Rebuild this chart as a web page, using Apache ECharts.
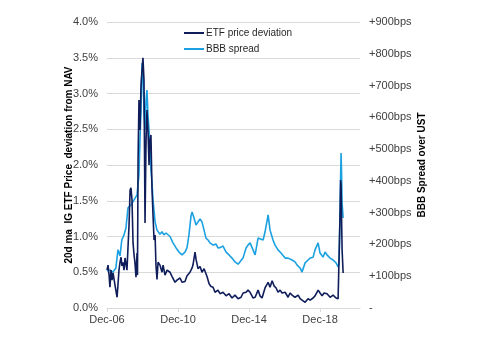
<!DOCTYPE html>
<html>
<head>
<meta charset="utf-8">
<script src="https://cdn.jsdelivr.net/npm/echarts@6/dist/echarts.min.js"></script>
<style>html,body{margin:0;padding:0;background:#fff;}#c{width:500px;height:350px;}</style>
</head>
<body>
<div id="c"></div>
<script>
// x values are months since Dec-2006
var xTickMonths = [0, 48, 96, 144];
var xTickLabels = ['Dec-06', 'Dec-10', 'Dec-14', 'Dec-18'];
var leftTicks = [0, 0.5, 1, 1.5, 2, 2.5, 3, 3.5, 4];
var rightTicks = [0, 100, 200, 300, 400, 500, 600, 700, 800, 900];

var etfMonths = [0,0.7,1.4,2,2.7,3.4,4.1,5.4,6.8,7.4,8.1,8.8,9.5,10.1,10.8,11.5,12.2,12.8,13.5,14.2,14.9,15.6,16.2,16.9,17.6,18.3,18.9,19.6,20.3,20.6,21,21.6,22.3,23,23.7,24.3,25,25.7,26.4,27,27.7,28.4,29,29.7,30.4,31.1,31.8,32.5,33.1,33.8,34.5,35.8,37.2,37.9,39.2,40.6,42.6,44,46,47.3,49.4,50.7,52.7,54.1,56.1,57.5,58.1,59.5,60.2,61.5,62.9,64.2,65.6,66.9,67.6,69,70.3,71.7,73,75,76.4,78.4,80.5,82.5,84.5,86.5,88.6,90.6,92,94,95.3,96.7,98.7,100.1,102.1,103.4,104.8,106.8,108.9,110.2,111.6,112.9,114.3,115.6,117,118.3,120.4,122.4,123.7,125.1,127.1,129.2,130.5,131.8,133.9,135.9,137.3,139.3,140.6,142.7,144,145.4,146.7,148.7,150.8,152.8,154.8,156.2,157.2,157.6,157.9,158.2,158.9,159.6];
var etfValues = [0.53,0.60,0.46,0.29,0.53,0.39,0.49,0.32,0.15,0.32,0.53,0.64,0.71,0.59,0.64,0.53,0.70,0.71,0.53,0.85,1.16,1.65,1.68,1.51,0.91,0.74,0.63,0.43,0.77,0.46,2.07,2.91,2.49,3.12,3.33,3.50,3.19,1.19,2.35,2.77,2.49,2.00,2.35,2.42,1.68,1.30,0.95,1.02,0.60,0.40,0.64,0.60,0.50,0.60,0.46,0.53,0.50,0.44,0.36,0.39,0.42,0.36,0.37,0.45,0.50,0.56,0.60,0.78,0.68,0.55,0.58,0.50,0.55,0.48,0.44,0.34,0.30,0.29,0.22,0.25,0.20,0.22,0.17,0.20,0.14,0.18,0.13,0.15,0.21,0.22,0.25,0.22,0.14,0.15,0.25,0.17,0.14,0.28,0.36,0.29,0.38,0.31,0.28,0.22,0.25,0.21,0.22,0.15,0.21,0.18,0.15,0.18,0.13,0.11,0.08,0.13,0.11,0.14,0.17,0.25,0.21,0.17,0.21,0.20,0.15,0.18,0.14,0.13,0.15,1.37,1.79,1.72,0.81,0.49];

var bbbMonths = [0,2,4,6,7.4,8.8,10,11.5,12.8,14.2,16.2,18.3,20.3,21.6,22.3,23,23.7,24.3,25,25.7,26.4,27,27.7,28.4,29,29.7,30.4,31.1,32.5,33.8,35.8,37.2,38.5,39.9,41.2,42.6,44.6,46.7,48.7,50.7,52.7,54.1,55.4,56.8,57.5,58.8,60.2,61.5,62.9,64.2,65.6,66.9,68.3,69.6,71.7,73.7,75,76.4,78.4,80.5,82.5,84.5,86.5,88.6,89.9,91.9,94,95.3,96.7,98.7,100.1,102.1,103.4,105.5,106.8,108.9,110.2,112.2,113.6,115.6,117.6,120.4,122.4,125.1,127.1,128.5,130.5,131.8,133.9,135.9,137.3,139.3,140.6,142.7,144,146,147.4,148.7,150.8,152.8,154.8,156.2,156.9,157.6,158.2,158.5,158.9,159.6];
var bbbValues = [116,120,113,126,183,164,214,230,252,315,324,340,356,419,529,623,771,749,623,560,654,686,607,560,497,434,396,340,271,245,232,240,230,236,232,225,205,189,176,167,176,190,230,290,302,283,261,271,280,271,245,220,214,205,198,201,189,190,195,176,167,157,145,138,135,157,189,198,205,183,167,220,220,214,239,293,245,214,198,183,173,157,157,151,145,135,126,113,142,151,157,160,183,205,173,160,176,167,157,151,142,129,145,340,488,434,330,283];

function zip(xs, ys) { return xs.map(function (x, i) { return [x, ys[i]]; }); }

var FONT = '"Liberation Sans", Arial, sans-serif';
var chart = echarts.init(document.getElementById('c'), null, { renderer: 'canvas' });
chart.setOption({
  animation: false,
  backgroundColor: '#ffffff',
  textStyle: { fontFamily: FONT },
  grid: { left: 107, right: 140, top: 22, bottom: 42, containLabel: false },
  legend: {
    orient: 'vertical',
    left: 178,
    top: 23,
    itemWidth: 20,
    itemHeight: 2,
    itemGap: 6,
    data: ['ETF price deviation', 'BBB spread'],
    textStyle: { fontFamily: FONT, fontSize: 10, color: '#262626', padding: [0, 0, 0, -3] }
  },
  xAxis: {
    type: 'value',
    min: 0,
    max: 171,
    interval: 48,
    splitLine: { show: false },
    axisLine: { show: true, lineStyle: { color: '#d9d9d9', width: 1 } },
    axisTick: { show: true, length: 4, lineStyle: { color: '#d9d9d9' }, customValues: xTickMonths },
    axisLabel: {
      customValues: xTickMonths,
      fontSize: 11, color: '#404040', margin: 6, fontFamily: FONT,
      formatter: function (v) { var i = xTickMonths.indexOf(v); return i >= 0 ? xTickLabels[i] : ''; }
    }
  },
  yAxis: [
    {
      type: 'value', min: 0, max: 4, interval: 0.5,
      name: '20d ma  IG ETF Price  deviation from NAV',
      nameLocation: 'middle', nameRotate: 90, nameGap: 33, nameMoveOverlap: false,
      nameTextStyle: { fontFamily: FONT, fontSize: 10, fontWeight: 'bold', color: '#000' },
      axisLine: { show: false }, axisTick: { show: false },
      splitLine: { show: true, lineStyle: { color: '#d9d9d9', width: 1 } },
      axisLabel: { fontSize: 11, color: '#404040', margin: 9, fontFamily: FONT,
        formatter: function (v) { return v.toFixed(1) + '%'; } }
    },
    {
      type: 'value', min: 0, max: 900, interval: 100, position: 'right',
      name: 'BBB Spread over UST',
      nameLocation: 'middle', nameRotate: 90, nameGap: 57, nameMoveOverlap: false,
      nameTextStyle: { fontFamily: FONT, fontSize: 10, fontWeight: 'bold', color: '#000' },
      axisLine: { show: false }, axisTick: { show: false }, splitLine: { show: false },
      axisLabel: { fontSize: 11, color: '#404040', margin: 9, fontFamily: FONT,
        formatter: function (v) { return v === 0 ? '-' : '+' + v + 'bps'; } }
    }
  ],
  series: [
    {
      name: 'BBB spread', type: 'line', yAxisIndex: 1, symbol: 'none',
      data: zip(bbbMonths, bbbValues),
      lineStyle: { color: '#1ba1e2', width: 1.6 }, itemStyle: { color: '#1ba1e2' }
    },
    {
      name: 'ETF price deviation', type: 'line', yAxisIndex: 0, symbol: 'none',
      data: zip(etfMonths, etfValues),
      lineStyle: { color: '#0f1d5a', width: 1.6 }, itemStyle: { color: '#0f1d5a' }
    }
  ]
});
</script>
</body>
</html>
